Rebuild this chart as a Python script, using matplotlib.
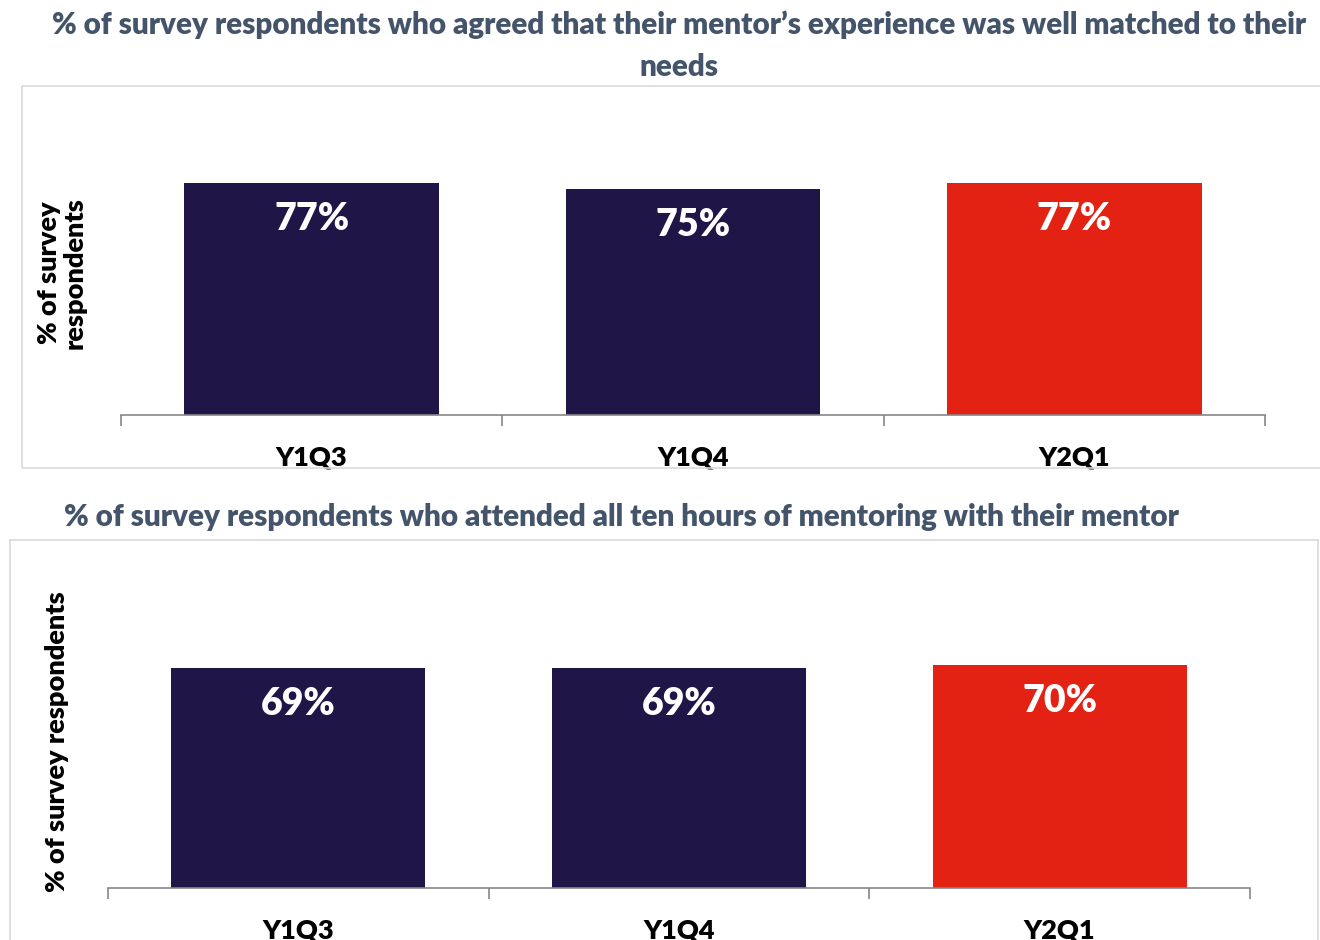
import matplotlib.pyplot as plt
from matplotlib.patches import Rectangle

# data
quarters = ["Y1Q3", "Y1Q4", "Y2Q1"]
matched_pct = [77, 75, 77]
attended_pct = [69, 69, 70]
bar_colors = ["#1F1547", "#1F1547", "#E32213"]

title_top = "% of survey respondents who agreed that their mentor\u2019s experience was well matched to their\nneeds"
title_bottom = "% of survey respondents who attended all ten hours of mentoring with their mentor"

plt.rcParams['font.family'] = ['Lato', 'DejaVu Sans']
plt.rcParams['font.weight'] = 'heavy'
WT = 'heavy'

W, H = 1320, 940
fig = plt.figure(figsize=(W / 100, H / 100), dpi=100)


def px_box(x0, y0, x1, y1):
    # pixel coords (from top-left) -> figure fraction rect
    return [x0 / W, 1 - y1 / H, (x1 - x0) / W, (y1 - y0) / H]


# panel borders
for (x0, y0, x1, y1) in [(22, 86, 1325, 468), (10, 540, 1318, 945)]:
    r = px_box(x0, y0, x1, y1)
    fig.patches.append(Rectangle((r[0], r[1]), r[2], r[3], transform=fig.transFigure,
                                 fill=False, edgecolor="#D9D9D9", linewidth=1.2))

fig.text(679 / W, 1 - 46 / H, title_top, ha="center", va="center", fontsize=21.3,
         color="#44546A", fontweight=WT, linespacing=1.62)
fig.text(621 / W, 1 - 517 / H, title_bottom, ha="center", va="center", fontsize=21.3,
         color="#44546A", fontweight=WT)


def draw_panel(rect, values, ylabel, ylabel_x, ylabel_y):
    ax = fig.add_axes(rect)
    x = range(len(quarters))
    ax.bar(x, values, width=0.667, color=bar_colors)
    ax.set_xlim(-0.5, len(quarters) - 0.5)
    ax.set_ylim(0, 100)
    for xi, v in zip(x, values):
        ax.annotate(f"{v}%", (xi, v), xytext=(0, -26), textcoords="offset points",
                    ha="center", va="center", color="white", fontsize=27, fontweight=WT)
    for s in ["top", "right", "left"]:
        ax.spines[s].set_visible(False)
    ax.spines["bottom"].set_color("#868686")
    ax.spines["bottom"].set_linewidth(1.2)
    ax.set_yticks([])
    ax.set_xticks([-0.5, 0.5, 1.5, 2.5])
    ax.set_xticklabels([])
    ax.tick_params(axis="x", which="major", length=8, color="#868686", width=1.2)
    ax.set_xticks(list(x), minor=True)
    ax.set_xticklabels(quarters, minor=True, fontsize=19.5, fontweight=WT)
    ax.tick_params(axis="x", which="minor", length=0, pad=22)
    fig.text(ylabel_x / W, 1 - ylabel_y / H, ylabel, rotation=90, ha="center", va="center",
             fontsize=19.5, fontweight=WT, color="black", linespacing=1.05)
    return ax


draw_panel(px_box(121, 114, 1265, 415), matched_pct, "% of survey\nrespondents", 62, 273)
draw_panel(px_box(108, 569, 1250, 888), attended_pct, "% of survey respondents", 57, 742)

fig.savefig("out.png", dpi=100)
